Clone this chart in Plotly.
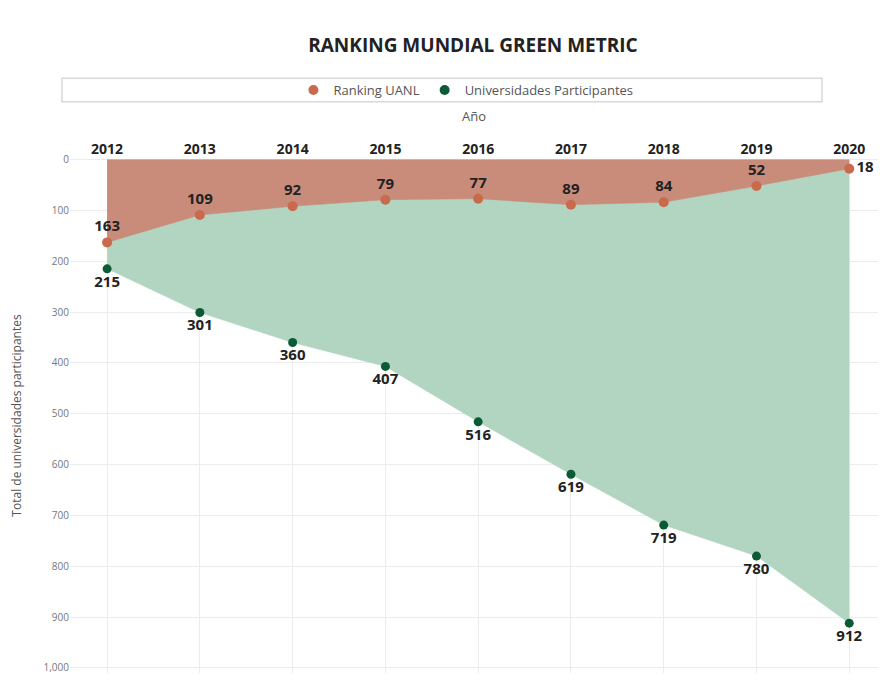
import plotly.graph_objects as go

years = [2012, 2013, 2014, 2015, 2016, 2017, 2018, 2019, 2020]
ranking_uanl = [163, 109, 92, 79, 77, 89, 84, 52, 18]
universidades = [215, 301, 360, 407, 516, 619, 719, 780, 912]
y_ticks = [0, 100, 200, 300, 400, 500, 600, 700, 800, 900, 1000]
y_tick_labels = ["0", "100", "200", "300", "400", "500", "600", "700", "800", "900", "1,000"]

FONT = "Open Sans, sans-serif"
RED_FILL = "#c98c7a"
RED_MARK = "#c96a4c"
GREEN_FILL = "#b2d5c2"
GREEN_MARK = "#0d5a36"

red_pos = ["top center"] * (len(years) - 1) + ["middle right"]

fig = go.Figure()
fig.add_trace(go.Scatter(
    x=years, y=universidades, mode="lines+markers+text", fill="tozeroy",
    fillcolor=GREEN_FILL, line=dict(color=GREEN_FILL, width=0.5),
    marker=dict(color=GREEN_MARK, size=9),
    text=["<b>%d</b>" % v for v in universidades], textposition="bottom center",
    textfont=dict(family=FONT, size=15, color="#222222"),
    showlegend=False, cliponaxis=False))
fig.add_trace(go.Scatter(
    x=years, y=ranking_uanl, mode="lines+markers+text", fill="tozeroy",
    fillcolor=RED_FILL, line=dict(color=RED_FILL, width=0.5),
    marker=dict(color=RED_MARK, size=10),
    text=["<b>%d</b>" % v for v in ranking_uanl], textposition=red_pos,
    textfont=dict(family=FONT, size=15, color="#222222"),
    showlegend=False, cliponaxis=False))
fig.add_trace(go.Scatter(x=[None], y=[None], mode="markers", name="Ranking UANL",
                         marker=dict(color=RED_MARK, size=10)))
fig.add_trace(go.Scatter(x=[None], y=[None], mode="markers", name="Universidades Participantes",
                         marker=dict(color=GREEN_MARK, size=10)))

fig.update_layout(
    width=889, height=689,
    margin=dict(l=62, r=19, t=150, b=24),
    paper_bgcolor="white", plot_bgcolor="white",
    title=dict(text="<b>RANKING MUNDIAL GREEN METRIC</b>", x=0.523, xanchor="center",
               y=0.946, yanchor="middle",
               font=dict(family=FONT, size=19, color="#222222")),
    legend=dict(orientation="h", x=0.49, xanchor="center", y=1.132, yanchor="middle",
                font=dict(family=FONT, size=13, color="#555555"),
                bgcolor="rgba(0,0,0,0)", itemwidth=30),
    xaxis=dict(side="top", range=[2011.6, 2020.31], tickvals=years,
               ticktext=["<b>%d</b>" % y for y in years],
               tickfont=dict(family=FONT, size=14, color="#222222"),
               showgrid=True, gridcolor="#ececec", zeroline=False, showline=False,
               title=dict(text="Año", font=dict(family=FONT, size=13, color="#555555"), standoff=14),
               ticks="", automargin=False),
    yaxis=dict(range=[1010, -3], tickvals=y_ticks, ticktext=y_tick_labels,
               tickfont=dict(family=FONT, size=10, color="#777777"),
               showgrid=True, gridcolor="#ececec", zeroline=False, showline=False,
               title=dict(text="Total de universidades participantes",
                          font=dict(family=FONT, size=12, color="#555555"), standoff=21),
               ticks="", automargin=False),
    shapes=[dict(type="rect", xref="paper", yref="paper", x0=-0.0099, x1=0.9307,
                 y0=1.109, y1=1.155, line=dict(color="#d8d8d8", width=1.5),
                 fillcolor="rgba(0,0,0,0)", layer="below")],
)

fig.write_html("out.html")
